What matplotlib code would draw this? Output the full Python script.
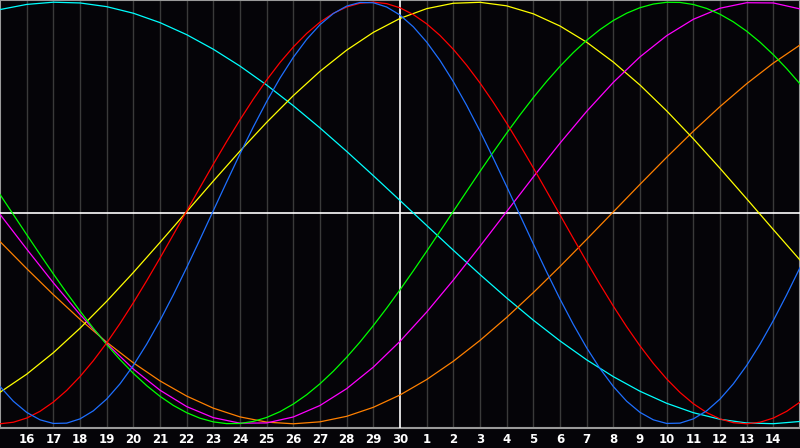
import numpy as np
import matplotlib
matplotlib.use("Agg")
import matplotlib.pyplot as plt

# day labels under the grid lines (15th .. 15th of next month)
DAYS = [16, 17, 18, 19, 20, 21, 22, 23, 24, 25, 26, 27, 28, 29, 30,
        1, 2, 3, 4, 5, 6, 7, 8, 9, 10, 11, 12, 13, 14]
TODAY = 30

# short cycles, read every half day from the 15th to the 15th
PHYSICAL = [-0.8232, -0.8930, -0.9459, -0.9812, -0.9984, -0.9969, -0.9768, -0.9386,
            -0.8828, -0.8106, -0.7234, -0.6225, -0.5103, -0.3883, -0.2592, -0.1253,
            0.0110, 0.1470, 0.2803, 0.4083, 0.5288, 0.6396, 0.7383, 0.8232,
            0.8929, 0.9459, 0.9812, 0.9984, 0.9969, 0.9768, 0.9386, 0.8828,
            0.8106, 0.7234, 0.6225, 0.5103, 0.3883, 0.2592, 0.1253, -0.0110,
            -0.1470, -0.2803, -0.4083, -0.5288, -0.6396, -0.7383, -0.8232, -0.8930,
            -0.9459, -0.9812, -0.9984, -0.9969, -0.9768, -0.9386, -0.8828, -0.8106,
            -0.7234, -0.6225, -0.5103, -0.3883, -0.2592]
EMOTIONAL = [-1.0000, -0.9927, -0.9729, -0.9409, -0.8970, -0.8419, -0.7761, -0.7007,
             -0.6165, -0.5245, -0.4258, -0.3218, -0.2138, -0.1030, 0.0089, 0.1208,
             0.2313, 0.3387, 0.4420, 0.5397, 0.6306, 0.7135, 0.7873, 0.8514,
             0.9048, 0.9468, 0.9769, 0.9947, 1.0000, 0.9927, 0.9729, 0.9409,
             0.8970, 0.8419, 0.7761, 0.7007, 0.6165, 0.5245, 0.4258, 0.3218,
             0.2138, 0.1030, -0.0089, -0.1208, -0.2313, -0.3387, -0.4420, -0.5397,
             -0.6306, -0.7135, -0.7873, -0.8514, -0.9048, -0.9468, -0.9769, -0.9947,
             -1.0000, -0.9927, -0.9729, -0.9409, -0.8970]
INTELLECTUAL = [0.0875, -0.0075, -0.1026, -0.1966, -0.2890, -0.3786, -0.4650, -0.5470,
                -0.6241, -0.6955, -0.7607, -0.8190, -0.8698, -0.9128, -0.9474, -0.9736,
                -0.9909, -0.9992, -0.9985, -0.9887, -0.9700, -0.9425, -0.9064, -0.8622,
                -0.8101, -0.7507, -0.6845, -0.6122, -0.5342, -0.4515, -0.3646, -0.2744,
                -0.1817, -0.0875, 0.0077, 0.1026, 0.1968, 0.2890, 0.3787, 0.4650,
                0.5471, 0.6241, 0.6955, 0.7607, 0.8190, 0.8698, 0.9128, 0.9474,
                0.9736, 0.9909, 0.9992, 0.9985, 0.9887, 0.9700, 0.9425, 0.9064,
                0.8621, 0.8101, 0.7506, 0.6845, 0.6122]

# longer cycles, read once a day
INTUITIVE = [-0.0066, -0.1711, -0.3310, -0.4818, -0.6194, -0.7403, -0.8407, -0.9184,
             -0.9710, -0.9971, -0.9960, -0.9677, -0.9132, -0.8334, -0.7312, -0.6089,
             -0.4701, -0.3184, -0.1580, 0.0066, 0.1711, 0.3310, 0.4818, 0.6194,
             0.7403, 0.8407, 0.9184, 0.9710, 0.9971, 0.9960, 0.9677]
AESTHETIC = [-0.8505, -0.7649, -0.6630, -0.5469, -0.4191, -0.2825, -0.1398, 0.0058,
             0.1514, 0.2937, 0.4297, 0.5566, 0.6717, 0.7722, 0.8565, 0.9226,
             0.9690, 0.9946, 0.9991, 0.9823, 0.9445, 0.8866, 0.8098, 0.7157,
             0.6066, 0.4842, 0.3517, 0.2117, 0.0671, -0.0790, -0.2233]
AWARENESS = [-0.1357, -0.2639, -0.3875, -0.5045, -0.6129, -0.7108, -0.7966, -0.8686,
             -0.9259, -0.9673, -0.9921, -1.0000, -0.9907, -0.9646, -0.9219, -0.8634,
             -0.7902, -0.7034, -0.6046, -0.4955, -0.3778, -0.2538, -0.1253, 0.0052,
             0.1357, 0.2639, 0.3875, 0.5045, 0.6129, 0.7108, 0.7966]
SPIRITUAL = [0.9647, 0.9890, 0.9996, 0.9960, 0.9785, 0.9473, 0.9027, 0.8456,
             0.7764, 0.6965, 0.6067, 0.5085, 0.4031, 0.2920, 0.1768, 0.0591,
             -0.0593, -0.1769, -0.2922, -0.4032, -0.5086, -0.6069, -0.6967, -0.7765,
             -0.8457, -0.9028, -0.9474, -0.9786, -0.9961, -0.9996, -0.9890]

CURVES = [
    (SPIRITUAL, "#00ffff"),
    (AWARENESS, "#ff8000"),
    (AESTHETIC, "#ffff00"),
    (INTUITIVE, "#ff00ff"),
    (INTELLECTUAL, "#00ff00"),
    (EMOTIONAL, "#ff0000"),
    (PHYSICAL, "#1e6fff"),
]

BG = "#050408"
SPAN = 30  # days across the chart

fig = plt.figure(figsize=(8, 4.48), dpi=100, facecolor=BG)
ax = fig.add_axes([0, 20 / 448, 1, 428 / 448])
ax.set_facecolor(BG)

tick_pos = np.arange(1, len(DAYS) + 1)

# vertical day grid
for p, d in zip(tick_pos, DAYS):
    if d == TODAY:
        ax.axvline(p, color="white", lw=1.2, zorder=3)
    else:
        ax.axvline(p, color="#3a3a3a", lw=1.0, zorder=1)
ax.axhline(0, color="white", lw=1.2, zorder=3)

for vals, col in CURVES:
    x = np.linspace(0, SPAN, len(vals))
    ax.plot(x, vals, color=col, lw=0.9, zorder=4)

ax.set_xlim(0, SPAN)
ax.set_ylim(-1.02, 1.01)
ax.set_yticks([])
ax.set_xticks(tick_pos)
ax.set_xticklabels([str(d) for d in DAYS], color="white",
                   fontsize=8.5, fontweight="bold", family="DejaVu Sans")
ax.tick_params(axis="x", length=0, pad=3.5)

for s in ax.spines.values():
    s.set_color("#9a9a9a")
    s.set_linewidth(1.5)

fig.savefig("out.png", dpi=100, facecolor=BG)
